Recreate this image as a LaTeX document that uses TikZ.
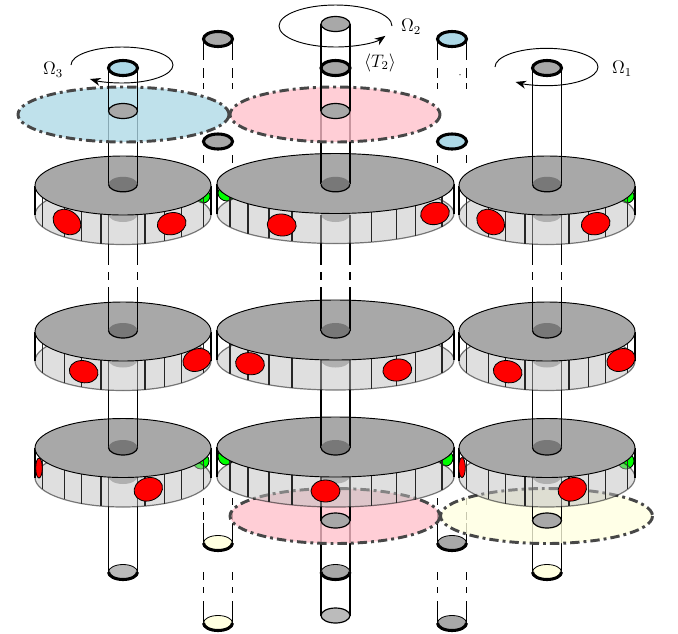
\documentclass[tikz,border=0pt]{standalone}
\usepackage{xcolor}
\usetikzlibrary{arrows.meta}

\definecolor{diskgray}{HTML}{A8A8A8}
\definecolor{hubgray}{HTML}{787878}
\definecolor{endgray}{HTML}{BBBBBB}
\definecolor{planeblue}{HTML}{ADD8E6}
\definecolor{planepink}{HTML}{FFC0CB}
\definecolor{planeyellow}{HTML}{FFFFE0}

\tikzset{
    rodline/.style={black, line width=0.9pt},
    rimline/.style={black, line width=2.3pt},
    thinline/.style={black, line width=0.6pt},
    diskbase/.style={draw=black, fill=black!25, opacity=0.5, line width=0.9pt},
    disktop/.style={draw=black, fill=diskgray, line width=0.7pt},
    disktick/.style={black!85, line width=0.8pt},
    plane/.style={draw=black!72, line width=2.2pt, fill opacity=0.78, dash pattern=on 7pt off 3pt on 2.2pt off 3pt},
    redspot/.style={draw=black, fill=red, line width=0.6pt},
    greenspot/.style={draw=black, fill=green, line width=0.6pt},
    spin/.style={-{Stealth[length=8pt, width=6pt]}, line width=0.7pt},
    omega/.style={font=\large, inner sep=0pt, scale=1.13}
}

% ticks round the front of a disk, as offsets from its centre
\def\outerticks{-80.5,-58.7,-41.3,-22,22,41.3,58.7,80.5}
\def\midticks{-105.5,-87.5,-66.5,-43.5,36,61,80,106.5}

% #1 centre x, #2 centre y, #3 x radius, #4 y radius, #5 ticks
\newcommand{\rotor}[5]{
    \draw[diskbase] (#1,{#2+#4}) ellipse [x radius=#3, y radius=#4];
    \draw[rodline] ({#1-#3},#2) -- ({#1-#3},{#2+#4}) ({#1+#3},#2) -- ({#1+#3},{#2+#4});
    \foreach \dx in #5 {
        \pgfmathsetmacro\dy{#4*sqrt(1-(\dx/#3)^2)}
        \draw[disktick] ({#1+\dx},{#2+\dy}) -- ({#1+\dx},{#2+#4+\dy});
    }
    \draw[disktop] (#1,#2) ellipse [x radius=#3, y radius=#4];
}
\newcommand{\rotorrow}[2]{
    \rotor{123}{#1}{88}{29.5}{\outerticks}
    \rotor{335.5}{#2}{118.5}{30}{\midticks}
    \rotor{547}{#1}{88}{29.5}{\outerticks}
}
% the two sides of a rod, #1 x, from y #2 to y #3
\newcommand{\rodsides}[3]{
    \draw[rodline] ({#1-14.5},#2) -- ({#1-14.5},#3) ({#1+14.5},#2) -- ({#1+14.5},#3);
}
% dark foot of a rod sitting on a disk
\newcommand{\rodfoot}[2]{
    \fill[hubgray] (#1,#2) ellipse [x radius=14.5, y radius=7.5];
    \draw[rodline] ({#1-14.5},#2) arc [start angle=180, end angle=0, x radius=14.5, y radius=7.5];
}
% gray bulge of a rod under a disk
\newcommand{\rodhead}[2]{
    \fill[black!37] (#1,#2) ellipse [x radius=14.5, y radius=7.5];
}
\newcommand{\rodring}[3]{
    \draw[rimline, fill=#3] (#1,#2) ellipse [x radius=14.5, y radius=7.5];
}
\newcommand{\rodlens}[2]{
    \draw[rodline, fill=diskgray] (#1,#2) ellipse [x radius=14.5, y radius=7.5];
}
% end of a rod seen from above, heavy front rim
\newcommand{\rodend}[3]{
    \draw[thinline, fill=#3] (#1,#2) ellipse [x radius=14.5, y radius=7.5];
    \draw[rimline] ({#1-14.5},#2) arc [start angle=180, end angle=0, x radius=14.5, y radius=7.5];
}

\begin{document}
\begin{tikzpicture}[x=0.75pt, y=-0.75pt]
    \useasboundingbox (0,0) rectangle (678,633);

    % the two short rods, broken up
    \foreach \cx in {218,452} {
        \foreach \ya/\yb in {39/60,68/78,83/89,155/163,498/505,512/520,523/543,572/580,587/593,601/623} {
            \rodsides{\cx}{\ya}{\yb}
        }
    }
    \rodring{218}{39}{diskgray}
    \rodring{218}{141.5}{diskgray}
    \rodend{218}{543}{planeyellow}
    \rodend{218}{623}{planeyellow}
    \rodring{452}{39}{planeblue}
    \rodring{452}{141.5}{planeblue}
    \rodend{452}{543}{diskgray}
    \rodend{452}{623}{diskgray}
    \fill (460,74.7) circle [radius=0.7];

    % green spots, mostly behind the disks
    \foreach \x/\y/\rx/\ry in {203/196/7/7,227/193/9/8,627/196/7/7,201/461/8/8,226/456/8/9,446/458/7/8,626/461/8/8} {
        \draw[greenspot] (\x,\y) ellipse [x radius=\rx, y radius=\ry];
    }

    % below the last row
    \rodhead{123}{476.5}
    \rodhead{335.5}{476}
    \rodhead{547}{476.5}
    \rodsides{123}{476.5}{572}
    \rodend{123}{572}{endgray}
    \rodsides{335.5}{520.5}{615.5}
    \rodend{335.5}{572}{diskgray}
    \draw[rodline, fill=endgray] (335.5,615.5) ellipse [x radius=14.5, y radius=7.5];
    \rodsides{547}{520.5}{572}
    \rodend{547}{572}{planeyellow}
    \draw[plane, fill=planepink] (335,516) ellipse [x radius=105, y radius=27.5];
    \draw[plane, fill=planeyellow] (546.5,516) ellipse [x radius=106, y radius=27.5];
    \rodsides{335.5}{476}{520.5}
    \rodlens{335.5}{520.5}
    \rodsides{547}{476.5}{520.5}
    \rodlens{547}{520.5}

    % rows of disks, lowest first so each one sits over the rods under it
    \rotorrow{448}{447}
    \foreach \cx in {123,335.5,547} {
        \rodhead{\cx}{360}
        \rodsides{\cx}{360}{447.5}
        \rodfoot{\cx}{447.5}
    }
    \rotorrow{331.5}{330}
    \foreach \cx in {123,335.5,547} {
        \rodhead{\cx}{214.5}
        \foreach \ya/\yb in {214.5/265,272/280,287/330.5} {
            \rodsides{\cx}{\ya}{\yb}
        }
        \rodfoot{\cx}{330.5}
    }
    \rotorrow{185.5}{183.5}

    % top part of the rods and the two upper planes
    \rodsides{123}{111}{184.3}
    \rodfoot{123}{184.3}
    \rodsides{335.5}{111}{184.3}
    \rodfoot{335.5}{184.3}
    \rodsides{547}{68}{184.3}
    \rodfoot{547}{184.3}
    \draw[plane, fill=planeblue] (123.5,114.5) ellipse [x radius=105.5, y radius=27.5];
    \draw[plane, fill=planepink] (335,114.5) ellipse [x radius=105, y radius=27.5];
    \rodsides{123}{68}{111}
    \rodlens{123}{111}
    \rodring{123}{68}{planeblue}
    \rodsides{335.5}{24}{111}
    \rodlens{335.5}{111}
    \rodring{335.5}{68}{diskgray}
    \draw[rodline, fill=diskgray] (335.5,24) ellipse [x radius=14.5, y radius=7.5];
    \rodring{547}{68}{diskgray}

    % red spots on top of everything
    \foreach \x/\y/\a/\rx/\ry in {
        67/222/-35/15/11.5, 171.7/223.7/12/14.5/11, 281.7/225/-5/14.5/11, 435/213.5/12/14.5/11, 490.7/222/-35/15/11.5, 595.7/223.7/12/14.5/11,
        83.7/371.7/-12/14.5/11, 197/360/20/14.5/11, 250/363.7/-8/14.5/11, 397.3/370/8/14.5/11, 507.7/371.7/-12/14.5/11, 621/360/20/14.5/11,
        39/468/0/3.3/10, 148.3/489.3/18/14.5/11.5, 325.5/491/0/14.5/11, 462/467.5/0/3.3/10, 572.3/489.3/18/14.5/11.5} {
        \draw[redspot, shift={(\x,\y)}, rotate=\a] (0,0) ellipse [x radius=\rx, y radius=\ry];
    }

    % rotation arrows and labels
    \draw[spin] (71,65) arc [start angle=180, end angle=489, x radius=51, y radius=18];
    \draw[spin] (392,26) arc [start angle=360, end angle=28, x radius=56.5, y radius=21];
    \draw[spin] (495,67) arc [start angle=180, end angle=487, x radius=51.5, y radius=18.7];
    \node[omega] (omegaone) at (622,69) {$\Omega_1$};
    \node[omega] (omegatwo) at (411,27) {$\Omega_2$};
    \node[omega] (omegathree) at (53,70) {$\Omega_3$};
    \node[omega] (torque) at (380,62.5) {$\langle T_2\rangle$};
\end{tikzpicture}
\end{document}
